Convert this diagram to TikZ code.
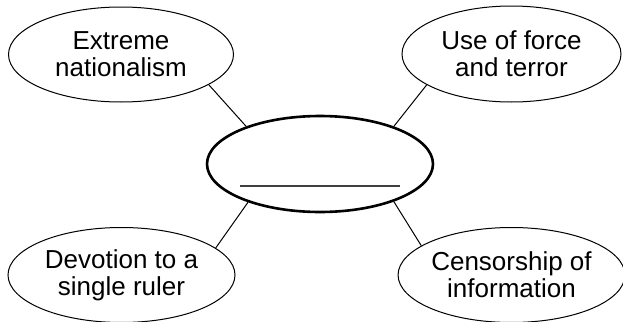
\documentclass[tikz,border=0pt]{standalone}
\usepackage{fontspec}
\setmainfont{Liberation Sans}
\usetikzlibrary{shapes.geometric, positioning}
\tikzstyle{bubble}=[ellipse, draw, line width=0.5pt, inner sep=0pt, align=center, font=\fontsize{13}{13.5}\selectfont]
\tikzstyle{hubble}=[ellipse, draw, line width=1.3pt, inner sep=0pt, minimum width=113pt, minimum height=48pt]
\tikzstyle{spoke}=[line width=0.5pt]
\tikzstyle{blankline}=[line width=0.8pt, black!75]

\begin{document}
\begin{tikzpicture}[x=0.5pt, y=-0.5pt]
  \useasboundingbox (0,0) rectangle (623,322);
  \node[hubble] (hub) at (320,164) {};
  \node[bubble, minimum width=112.5pt, minimum height=47.5pt] (nation) at (121,54.5) {Extreme\\nationalism};
  \node[bubble, minimum width=109.5pt, minimum height=48pt] (force) at (511.5,54) {Use of force\\and terror};
  \node[bubble, minimum width=113.5pt, minimum height=47.5pt] (ruler) at (121.5,275) {Devotion to a\\single ruler};
  \node[bubble, minimum width=111.5pt, minimum height=47.5pt] (censor) at (511.5,275) {Censorship of\\information};
  \coordinate (blank-l) at ([shift={(-80,22)}]hub.center);
  \coordinate (blank-r) at ([shift={(80,22)}]hub.center);
  \draw[blankline] (blank-l) -- (blank-r);
  \draw[spoke] (nation.-19) -- (hub.153);
  \draw[spoke] (force.200) -- (hub.27);
  \draw[spoke] (ruler.16) -- (hub.208);
  \draw[spoke] (censor.162) -- (hub.-27);
\end{tikzpicture}
\end{document}
